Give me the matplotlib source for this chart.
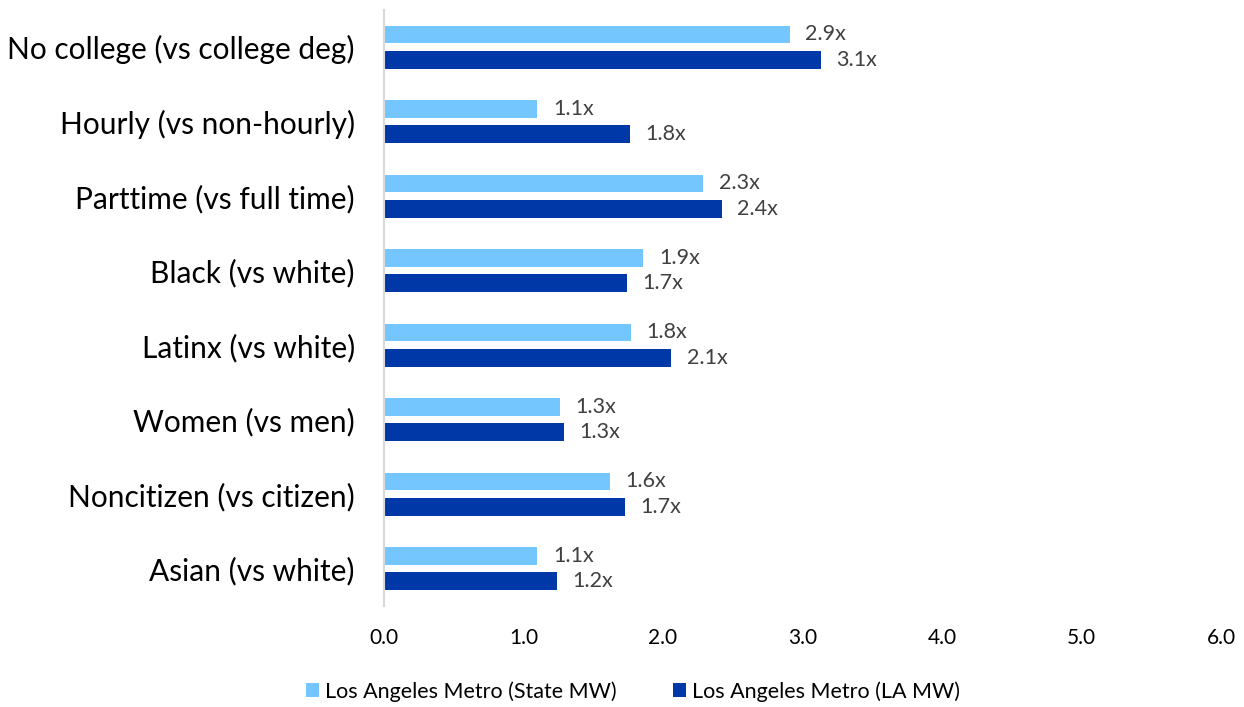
import numpy as np
import matplotlib.pyplot as plt

plt.rcParams['font.family'] = ['Lato', 'DejaVu Sans']

# Ratio of each group vs its comparison group
categories = ['No college (vs college deg)', 'Hourly (vs non-hourly)',
              'Parttime (vs full time)', 'Black (vs white)',
              'Latinx (vs white)', 'Women (vs men)',
              'Noncitizen (vs citizen)', 'Asian (vs white)']
state_mw = [2.91, 1.10, 2.29, 1.86, 1.77, 1.26, 1.62, 1.10]
la_mw = [3.13, 1.76, 2.42, 1.74, 2.06, 1.29, 1.73, 1.24]
xticks = [0, 1, 2, 3, 4, 5, 6]

light = '#73C6FF'
dark = '#0038A8'

fig = plt.figure(figsize=(12.44, 7.07), dpi=100)
ax = fig.add_axes([0.3087, 0.143, 0.6728, 0.843])

y = np.arange(len(categories))
h = 0.24
off = 0.17
b1 = ax.barh(y - off, state_mw, height=h, color=light, label='Los Angeles Metro (State MW)')
b2 = ax.barh(y + off, la_mw, height=h, color=dark, label='Los Angeles Metro (LA MW)')

for bars, vals in [(b1, state_mw), (b2, la_mw)]:
    for rect, v in zip(bars, vals):
        ax.text(v + 0.11, rect.get_y() + rect.get_height() / 2, f'{v:.1f}x',
                va='center', ha='left', fontsize=15.5, color='#404040')

ax.set_ylim(len(categories) - 0.5, -0.5)
ax.set_xlim(0, 6)
ax.set_yticks(y)
ax.set_yticklabels(categories, fontsize=21.5)
ax.set_xticks(xticks)
ax.set_xticklabels([f'{t:.1f}' for t in xticks], fontsize=15)
ax.tick_params(length=0)
ax.tick_params(axis='x', pad=16)
ax.tick_params(axis='y', pad=21)

for s in ['top', 'right', 'bottom']:
    ax.spines[s].set_visible(False)
ax.spines['left'].set_color('#D9D9D9')
ax.spines['left'].set_linewidth(1.5)

fig.legend(handles=[b1, b2], loc='center', bbox_to_anchor=(0.509, 0.022),
           ncol=2, frameon=False, fontsize=15.5, handlelength=0.6, handleheight=0.6,
           handletextpad=0.3, columnspacing=2.6)

fig.savefig('out.png', dpi=100)
